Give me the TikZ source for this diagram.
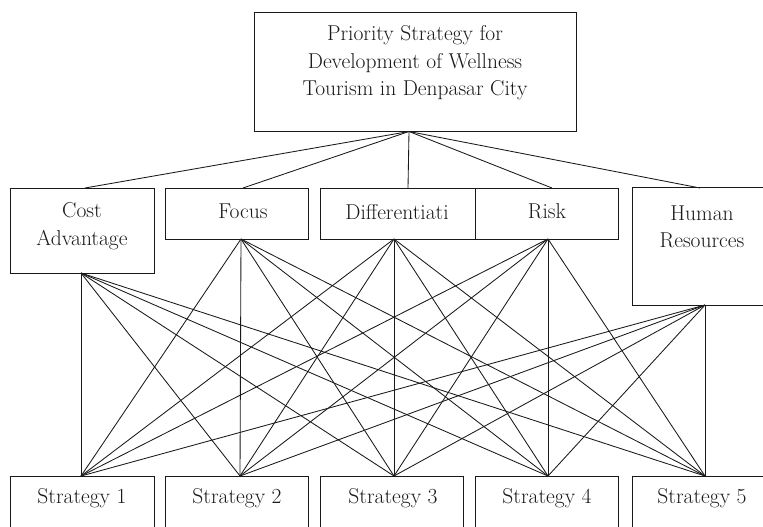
\documentclass[tikz,border=0pt]{standalone}
\usetikzlibrary{positioning}
\begin{document}
\begin{tikzpicture}[x=1pt,y=-1pt,
  box/.style={draw=black!90,line width=1pt,rectangle,inner sep=0pt},
  lbl/.style={align=center,inner sep=0pt,text=black!90,font=\fontsize{21.5}{27.5}\selectfont},
  con/.style={draw=black!90,line width=0.85pt}]
\useasboundingbox (0,0) rectangle (763,527);
\clip (0,0) rectangle (763,527);
% boxes
\node[box,minimum width=322pt,minimum height=119pt] (goal) at (415,72) {};
\node[box,minimum width=144pt,minimum height=85pt] (c1) at (82,230.5) {};
\node[box,minimum width=143pt,minimum height=51pt] (c2) at (236.5,213.5) {};
\node[box,minimum width=155pt,minimum height=51pt] (c3) at (397.5,213.5) {};
\node[box,minimum width=143.5pt,minimum height=51pt] (c4) at (546.75,213.5) {};
\node[box,minimum width=168pt,minimum height=118pt] (c5) at (716,246) {};
\node[box,minimum width=144pt,minimum height=80pt] (s1) at (82,516) {};
\node[box,minimum width=143pt,minimum height=80pt] (s2) at (236.5,516) {};
\node[box,minimum width=143pt,minimum height=80pt] (s3) at (391.5,516) {};
\node[box,minimum width=143pt,minimum height=80pt] (s4) at (546.5,516) {};
\node[box,minimum width=168pt,minimum height=80pt] (s5) at (716,516) {};
% labels
\node[lbl] (tgoal) at (415,63) {Priority Strategy for\\Development of Wellness\\Tourism in Denpasar City};
\node[lbl] (tc1) at (82,226) {Cost\\Advantage};
\node[lbl] (tc2) at (243,211) {Focus};
\node[lbl] (tc3) at (397,212) {Differentiati};
\node[lbl] (tc4) at (547,211) {Risk};
\node[lbl] (tc5) at (702,227) {Human\\Resources};
\node[lbl] (ts1) at (82,498) {Strategy 1};
\node[lbl] (ts2) at (237,498) {Strategy 2};
\node[lbl] (ts3) at (393,498) {Strategy 3};
\node[lbl] (ts4) at (547,498) {Strategy 4};
\node[lbl] (ts5) at (702,498) {Strategy 5};
% junctions
\coordinate (T) at (409,131.5);
\coordinate (c1t) at (85,188);
\coordinate (c2t) at (243,188);
\coordinate (c3t) at (408,188);
\coordinate (c4t) at (552,188);
\coordinate (c5t) at (700,188);
\coordinate (c1b) at (81,273);
\coordinate (c2b) at (241,239);
\coordinate (c3b) at (394,239);
\coordinate (c4b) at (548,239);
\coordinate (c5b) at (705,305);
\coordinate (s1t) at (81,476);
\coordinate (s2t) at (240,476);
\coordinate (s3t) at (394,476);
\coordinate (s4t) at (548,476);
\coordinate (s5t) at (705,476);
% connectors
\foreach \c in {c1t,c2t,c3t,c4t,c5t} \draw[con] (T) -- (\c);
\foreach \c in {c1b,c2b,c3b,c4b,c5b}
  \foreach \s in {s1t,s2t,s3t,s4t,s5t}
    \draw[con] (\c) -- (\s);
\end{tikzpicture}
\end{document}
